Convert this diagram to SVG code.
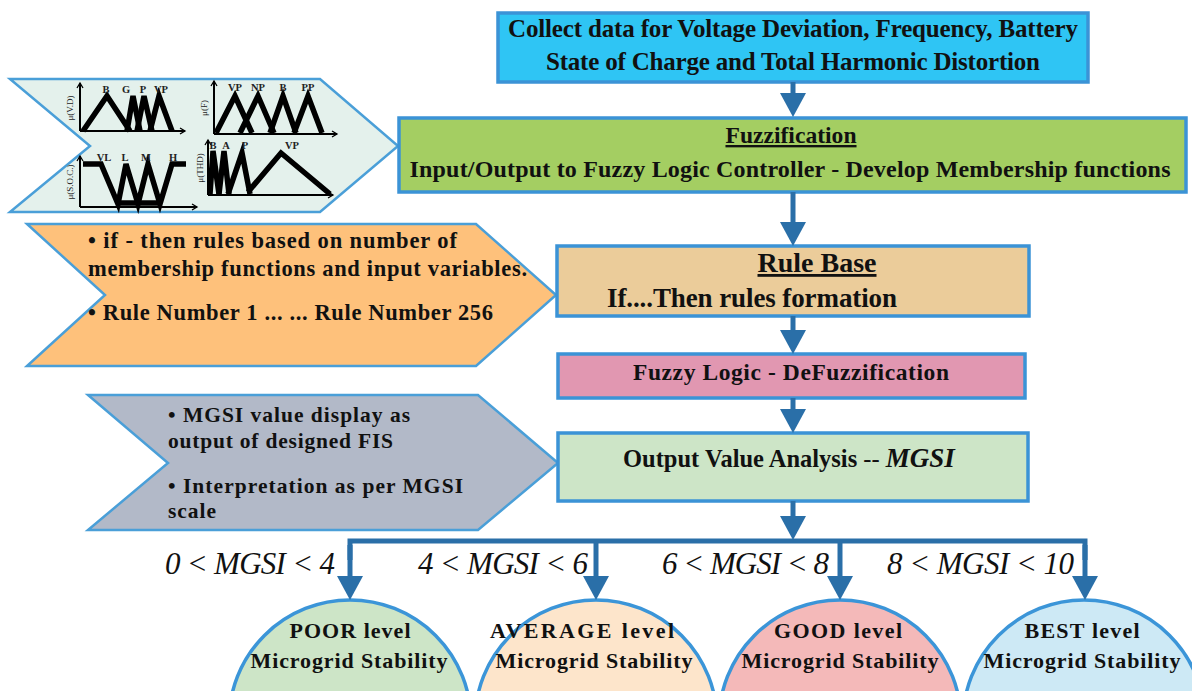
<svg xmlns="http://www.w3.org/2000/svg" width="1192" height="691" viewBox="0 0 1192 691">
  <style>
    .box { stroke: #3b93d6; stroke-width: 3.5; }
    .chev { stroke: #4a9fd8; stroke-width: 2.5; }
    .t { font-family: "Liberation Serif", "Times New Roman", serif; font-weight: bold; fill: #111; }
    .ti { font-family: "Liberation Serif", "Times New Roman", serif; font-style: italic; fill: #111; }
    .mf { fill: none; stroke: #000; stroke-width: 5.5; stroke-linejoin: miter; }
    .ax { fill: none; stroke: #000; stroke-width: 2; }
    .mfl { font-family: "Liberation Serif", "Times New Roman", serif; font-weight: bold; font-size: 10.5px; fill: #222; text-anchor: middle; }
    .mfy { font-family: "Liberation Serif", "Times New Roman", serif; font-size: 9px; fill: #222; text-anchor: middle; }
    .conn { fill: none; stroke: #2a6fa8; stroke-width: 5; }
    .dome { stroke: #3b95d8; stroke-width: 3.5; }
  </style>
  <defs>
    <marker id="head" markerUnits="userSpaceOnUse" markerWidth="24" markerHeight="26" viewBox="0 0 24 26" refX="0" refY="13" orient="auto">
      <path d="M0,0 L24,13 L0,26 z" fill="#2a6fa8"/>
    </marker>
    <marker id="axh" markerUnits="userSpaceOnUse" markerWidth="8" markerHeight="8" viewBox="0 0 8 8" refX="6" refY="4" orient="auto">
      <path d="M1,1 L6,4 L1,7" fill="none" stroke="#000" stroke-width="1.3"/>
    </marker>
  </defs>

  <!-- membership function panel -->
  <g id="membership-panel">
    <polygon class="chev" points="10,79 320,79 398,146 320,212 10,212 90,146" fill="#e4f1ec"/>
    <!-- mu(V.D) -->
    <path class="ax" d="M80,131 V83" marker-end="url(#axh)"/>
    <path class="ax" d="M80,131 H185" marker-end="url(#axh)"/>
    <polyline class="mf" points="83,131 107,96 130,131"/>
    <polyline class="mf" points="127,131 133,96 140,131"/>
    <polyline class="mf" points="137,131 144,96 152,131"/>
    <polyline class="mf" points="150,131 159,96 172,131"/>
    <text class="mfl" x="106" y="93">B</text>
    <text class="mfl" x="126" y="93">G</text>
    <text class="mfl" x="143" y="93">P</text>
    <text class="mfl" x="161" y="93">VP</text>
    <text class="mfy" transform="translate(73,108) rotate(-90)">μ(V.D)</text>
    <!-- mu(S.O.C.) -->
    <path class="ax" d="M80,207 V156" marker-end="url(#axh)"/>
    <path class="ax" d="M80,207 H197" marker-end="url(#axh)"/>
    <polyline class="mf" points="83,164 101,164 118,204 126,164 138,204 148,164 160,204 172,164 186,164"/>
    <path class="mf" d="M117,203 H158"/>
    <text class="mfl" x="104" y="161">VL</text>
    <text class="mfl" x="125" y="161">L</text>
    <text class="mfl" x="146" y="161">M</text>
    <text class="mfl" x="173" y="161">H</text>
    <text class="mfy" transform="translate(73,182) rotate(-90)">μ(S.O.C.)</text>
    <!-- mu(F) -->
    <path class="ax" d="M214,134 V81" marker-end="url(#axh)"/>
    <path class="ax" d="M214,134 H337" marker-end="url(#axh)"/>
    <polyline class="mf" points="216,133 235,96 252,133"/>
    <polyline class="mf" points="240,133 258,96 274,133"/>
    <polyline class="mf" points="270,133 283,96 296,133"/>
    <polyline class="mf" points="294,133 308,96 322,133"/>
    <text class="mfl" x="235" y="91">VP</text>
    <text class="mfl" x="258" y="91">NP</text>
    <text class="mfl" x="283" y="91">B</text>
    <text class="mfl" x="308" y="91">PP</text>
    <text class="mfy" transform="translate(207,108) rotate(-90)">μ(F)</text>
    <!-- mu(THD) -->
    <path class="ax" d="M208,195 V140" marker-end="url(#axh)"/>
    <path class="ax" d="M208,195 H333" marker-end="url(#axh)"/>
    <polyline class="mf" points="210,194 213,151 219,194"/>
    <polyline class="mf" points="219,194 224,151 229,194"/>
    <polyline class="mf" points="228,194 242,153 250,194"/>
    <polyline class="mf" points="248,192 281,153 330,194"/>
    <text class="mfl" x="213" y="149">B</text>
    <text class="mfl" x="226" y="149">A</text>
    <text class="mfl" x="245" y="149">P</text>
    <text class="mfl" x="292" y="149">VP</text>
    <text class="mfy" transform="translate(203,168) rotate(-90)">μ(THD)</text>
  </g>

  <!-- rule description -->
  <g id="rules-note">
    <polygon class="chev" points="27,224 476,224 556,295 476,366 27,366 105,295" fill="#fec17b"/>
    <text class="t" x="88" y="248" font-size="22.5" textLength="369" lengthAdjust="spacing">• if - then rules based on number of</text>
    <text class="t" x="88" y="276" font-size="22.5" textLength="439" lengthAdjust="spacing">membership functions and input variables.</text>
    <text class="t" x="88" y="320" font-size="22.5" textLength="405" lengthAdjust="spacing">• Rule Number 1 ... ... Rule Number 256</text>
  </g>

  <!-- output note -->
  <g id="output-note">
    <polygon class="chev" points="88,395 478,395 558,463 478,530 88,530 168,463" fill="#b2b9c8"/>
    <text class="t" x="168" y="422" font-size="21.5" textLength="242" lengthAdjust="spacing">• MGSI value display as</text>
    <text class="t" x="168" y="448" font-size="21.5" textLength="225" lengthAdjust="spacing">output of designed FIS</text>
    <text class="t" x="168" y="493" font-size="21.5" textLength="295" lengthAdjust="spacing">• Interpretation as per MGSI</text>
    <text class="t" x="168" y="518" font-size="21.5" textLength="48" lengthAdjust="spacing">scale</text>
  </g>

  <!-- process boxes -->
  <g id="collect-data">
    <rect class="box" x="498" y="13" width="590" height="69" fill="#2fc5f4"/>
    <text class="t" x="793" y="37" font-size="25" text-anchor="middle" textLength="570" lengthAdjust="spacing">Collect data for Voltage Deviation, Frequency, Battery</text>
    <text class="t" x="793" y="70" font-size="25" text-anchor="middle" textLength="494" lengthAdjust="spacing">State of Charge and Total Harmonic Distortion</text>
  </g>
  <g id="fuzzification">
    <rect class="box" x="399" y="118" width="787" height="74" fill="#a4ce62"/>
    <text class="t" x="791" y="143" font-size="23.6" text-anchor="middle" text-decoration="underline">Fuzzification</text>
    <text class="t" x="790" y="177" font-size="24" text-anchor="middle" textLength="761" lengthAdjust="spacing">Input/Output to Fuzzy Logic Controller - Develop Membership functions</text>
  </g>
  <g id="rule-base">
    <rect class="box" x="557" y="246" width="472" height="70" fill="#ebcc9a"/>
    <text class="t" x="817" y="272" font-size="28" text-anchor="middle" text-decoration="underline">Rule Base</text>
    <text class="t" x="607" y="307" font-size="27" textLength="290" lengthAdjust="spacing">If....Then rules formation</text>
  </g>
  <g id="defuzzification">
    <rect class="box" x="558" y="354" width="467" height="44" fill="#e197b1"/>
    <text class="t" x="791" y="380" font-size="23.5" text-anchor="middle" textLength="316" lengthAdjust="spacing">Fuzzy Logic - DeFuzzification</text>
  </g>
  <g id="output-analysis">
    <rect class="box" x="558" y="433" width="470" height="68" fill="#cde5c7"/>
    <text class="t" x="623" y="467" font-size="24.5">Output Value Analysis <tspan font-weight="normal">--</tspan> <tspan class="ti" font-size="27">MGSI</tspan></text>
  </g>

  <!-- stability levels -->
  <g id="level-poor">
    <circle class="dome" cx="350" cy="721" r="121" fill="#cde5c7"/>
    <text class="t" x="350" y="638" font-size="22" text-anchor="middle" textLength="121" lengthAdjust="spacing">POOR level</text>
    <text class="t" x="349" y="668" font-size="22" text-anchor="middle" textLength="197" lengthAdjust="spacing">Microgrid Stability</text>
  </g>
  <g id="level-average">
    <circle class="dome" cx="596" cy="721" r="121" fill="#fde5cb"/>
    <text class="t" x="582" y="638" font-size="22" text-anchor="middle" textLength="184" lengthAdjust="spacing">AVERAGE level</text>
    <text class="t" x="594" y="668" font-size="22" text-anchor="middle" textLength="197" lengthAdjust="spacing">Microgrid Stability</text>
  </g>
  <g id="level-good">
    <circle class="dome" cx="840" cy="721" r="121" fill="#f4b9b9"/>
    <text class="t" x="838" y="638" font-size="22" text-anchor="middle" textLength="128" lengthAdjust="spacing">GOOD level</text>
    <text class="t" x="840" y="668" font-size="22" text-anchor="middle" textLength="197" lengthAdjust="spacing">Microgrid Stability</text>
  </g>
  <g id="level-best">
    <circle class="dome" cx="1084" cy="721" r="121" fill="#cde9f5"/>
    <text class="t" x="1082" y="638" font-size="22" text-anchor="middle" textLength="115" lengthAdjust="spacing">BEST level</text>
    <text class="t" x="1082" y="668" font-size="22" text-anchor="middle" textLength="197" lengthAdjust="spacing">Microgrid Stability</text>
  </g>

  <!-- connectors -->
  <g id="connectors">
    <path class="conn" d="M793,82 V93" marker-end="url(#head)"/>
    <path class="conn" d="M793,192 V222" marker-end="url(#head)"/>
    <path class="conn" d="M793,316 V330" marker-end="url(#head)"/>
    <path class="conn" d="M793,398 V409" marker-end="url(#head)"/>
    <path class="conn" d="M793,501 V516" marker-end="url(#head)"/>
    <path class="conn" d="M350,560 V541 H1085 V560"/>
    <path class="conn" d="M350,545 V576" marker-end="url(#head)"/>
    <path class="conn" d="M596,541 V576" marker-end="url(#head)"/>
    <path class="conn" d="M840,541 V576" marker-end="url(#head)"/>
    <path class="conn" d="M1085,545 V576" marker-end="url(#head)"/>
    <text class="ti" x="335" y="574" font-size="31" text-anchor="end" textLength="170" lengthAdjust="spacing">0 &lt; MGSI &lt; 4</text>
    <text class="ti" x="588" y="574" font-size="31" text-anchor="end" textLength="170" lengthAdjust="spacing">4 &lt; MGSI &lt; 6</text>
    <text class="ti" x="829" y="574" font-size="31" text-anchor="end" textLength="167" lengthAdjust="spacing">6 &lt; MGSI &lt; 8</text>
    <text class="ti" x="1074" y="574" font-size="31" text-anchor="end" textLength="187" lengthAdjust="spacing">8 &lt; MGSI &lt; 10</text>
  </g>
</svg>
